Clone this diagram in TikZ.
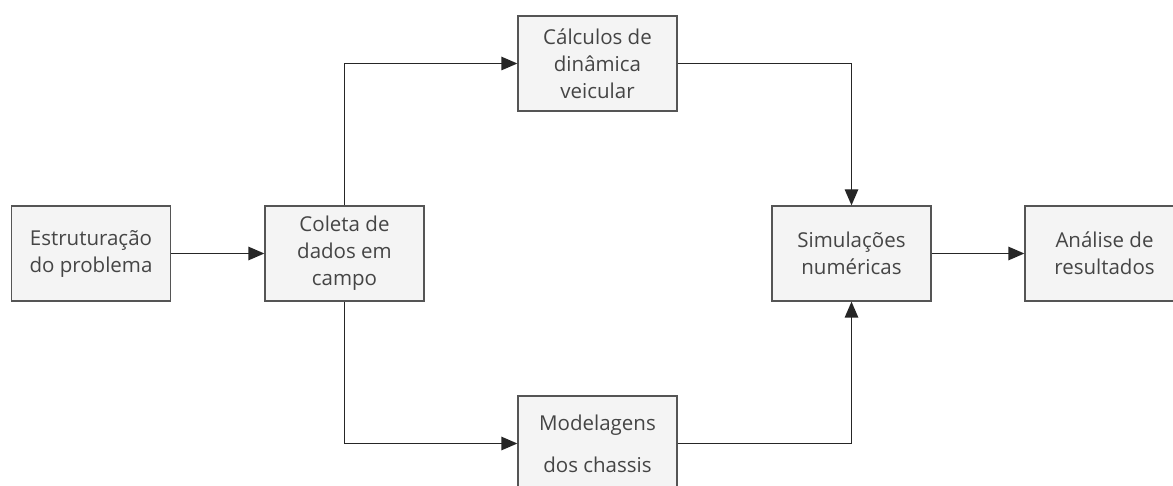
\documentclass[tikz,border=0pt]{standalone}
\usepackage{fontspec}
\setmainfont{Open Sans}
\usetikzlibrary{arrows.meta}
\definecolor{boxfill}{HTML}{F4F4F4}
\definecolor{boxline}{HTML}{555555}
\definecolor{txtgray}{HTML}{454545}
\tikzset{
  etapa/.style={draw=boxline, fill=boxfill, line width=1.3pt, minimum width=159pt,
    minimum height=95pt, inner sep=0pt, align=center, text=txtgray,
    font=\fontsize{20.5}{27}\selectfont},
  seta/.style={draw=black!85, line width=1.3pt, -{Triangle[length=16pt,width=13.5pt]}},
}
\begin{document}
\begin{tikzpicture}[x=1pt,y=-1pt]
        \useasboundingbox[clip] (0,0) rectangle (1173,486);
        \node[etapa] (estrut) at (91,253.5) {Estruturação\\do problema};
        \node[etapa] (coleta) at (344.5,253.5) {Coleta de\\dados em\\campo};
        \node[etapa] (calc) at (597.5,63.5) {Cálculos de\\dinâmica\\veicular};
        \node[etapa, font=\fontsize{20.5}{42}\selectfont] (model) at (597.5,443.5) {Modelagens\\dos chassis};
        \node[etapa] (simul) at (851.5,253.5) {Simulações\\numéricas};
        \node[etapa] (analise) at (1104.5,253.5) {Análise de\\resultados};
        \draw[seta] (estrut) -- (coleta);
        \draw[seta] (coleta.north) |- (calc.west);
        \draw[seta] (coleta.south) |- (model.west);
        \draw[seta] (calc.east) -| (simul.north);
        \draw[seta] (model.east) -| (simul.south);
        \draw[seta] (simul) -- (analise);
\end{tikzpicture}
\end{document}
